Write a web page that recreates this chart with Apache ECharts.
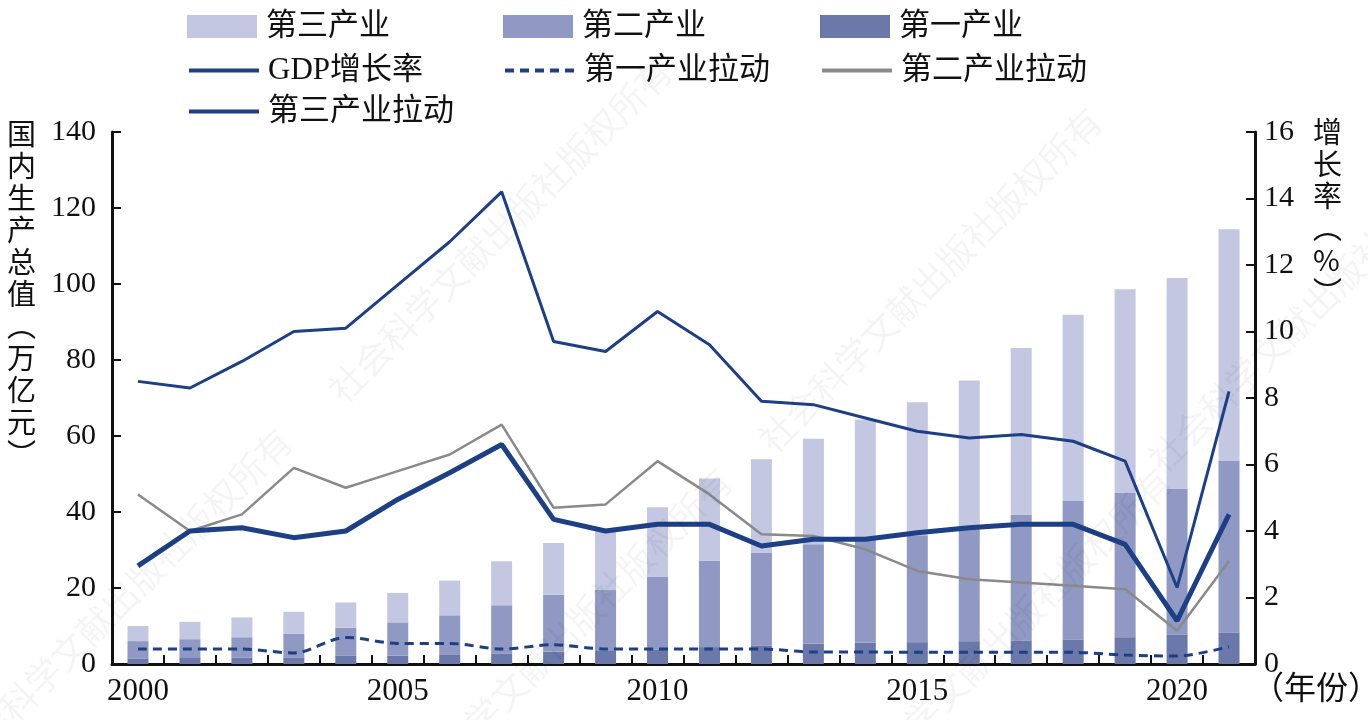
<!DOCTYPE html>
<html>
<head>
<meta charset="utf-8">
<script src="https://cdn.jsdelivr.net/npm/echarts@6/dist/echarts.min.js"></script>
<style>
  html, body { margin: 0; padding: 0; background: #fff; }
  #chart { width: 1368px; height: 720px; }
</style>
</head>
<body>
<div id="chart"></div>
<script>
// 年份
const years = ["2000", "2001", "2002", "2003", "2004", "2005", "2006", "2007", "2008", "2009", "2010",
  "2011", "2012", "2013", "2014", "2015", "2016", "2017", "2018", "2019", "2020", "2021"];

// 三次产业增加值（万亿元）
const primary = [1.47, 1.58, 1.65, 1.74, 2.14, 2.20, 2.38, 2.79, 3.27, 3.42, 3.84,
  4.45, 4.91, 5.30, 5.56, 5.75, 6.01, 6.21, 6.47, 7.05, 7.78, 8.31];
const secondary = [4.56, 4.95, 5.39, 6.24, 7.39, 8.76, 10.44, 12.68, 14.97, 16.05, 19.16,
  22.71, 24.46, 26.20, 27.74, 28.13, 29.54, 33.16, 36.45, 38.06, 38.41, 45.09];
const tertiary = [3.97, 4.57, 5.20, 5.77, 6.66, 7.74, 9.12, 11.54, 13.62, 15.48, 18.26,
  21.65, 24.49, 27.77, 31.03, 34.99, 39.08, 43.80, 48.96, 53.54, 55.40, 61.00];

// 增长率与拉动（%）
const gdpGrowth = [8.5, 8.3, 9.1, 10.0, 10.1, 11.4, 12.7, 14.2, 9.7, 9.4, 10.6,
  9.6, 7.9, 7.8, 7.4, 7.0, 6.8, 6.9, 6.7, 6.1, 2.3, 8.2];
const pull1 = [0.45, 0.45, 0.45, 0.33, 0.8, 0.62, 0.62, 0.45, 0.58, 0.45, 0.45,
  0.45, 0.45, 0.36, 0.36, 0.35, 0.35, 0.35, 0.35, 0.27, 0.24, 0.52];
const pull2 = [5.1, 4.0, 4.5, 5.9, 5.3, 5.8, 6.3, 7.2, 4.7, 4.8, 6.1,
  5.1, 3.9, 3.85, 3.45, 2.8, 2.55, 2.45, 2.35, 2.25, 1.0, 3.1];
const pull3 = [2.95, 4.0, 4.1, 3.8, 4.0, 4.95, 5.75, 6.6, 4.35, 4.0, 4.2,
  4.2, 3.55, 3.75, 3.75, 3.95, 4.1, 4.2, 4.2, 3.6, 1.3, 4.5];

const C_T3 = "#c3c7e1";
const C_T2 = "#8f99c3";
const C_T1 = "#6b79aa";
const C_BLUE = "#1d3f86";
const C_GREY = "#8a8a8a";
const FONT = "'Liberation Serif', 'Noto Sans CJK SC', serif";

function legendItem(name, left, top, isBar) {
  const lg = {
    data: [name],
    left: left,
    top: top,
    itemWidth: 70,
    itemHeight: isBar ? 23 : 14,
    selectedMode: false,
    textStyle: { fontSize: 31, color: "#111", fontFamily: FONT, padding: [0, 0, 0, 4] }
  };
  if (isBar) {
    lg.icon = "rect";
  } else {
    lg.itemStyle = { opacity: 0 };
    lg.lineStyle = { width: 4 };
  }
  return lg;
}

function watermark(x, y) {
  return {
    type: "text",
    x: x,
    y: y,
    rotation: Math.PI / 4,
    silent: true,
    z: 100,
    style: {
      text: "社会科学文献出版社版权所有",
      fontSize: 36,
      fontFamily: "'Noto Sans CJK SC'",
      fill: "rgba(0,0,0,0.045)",
      align: "center",
      verticalAlign: "middle"
    }
  };
}

const option = {
  animation: false,
  backgroundColor: "#fff",
  legend: [
    legendItem("第三产业", 182, 6, true),
    legendItem("第二产业", 498, 6, true),
    legendItem("第一产业", 815, 6, true),
    legendItem("GDP增长率", 182, 50, false),
    legendItem("第一产业拉动", 498, 50, false),
    legendItem("第二产业拉动", 815, 50, false),
    legendItem("第三产业拉动", 182, 91, false)
  ],
  grid: { left: 112, right: 113, top: 132, bottom: 56 },
  xAxis: {
    type: "category",
    data: years,
    boundaryGap: true,
    axisLine: { lineStyle: { color: "#111", width: 3 } },
    axisTick: { show: true, inside: true, length: 9, interval: 0, lineStyle: { color: "#111", width: 2 } },
    axisLabel: { interval: 4, fontSize: 31, color: "#111", fontFamily: FONT, margin: 12 }
  },
  yAxis: [
    {
      type: "value",
      min: 0,
      max: 140,
      interval: 20,
      position: "left",
      splitLine: { show: false },
      axisLine: { show: true, lineStyle: { color: "#111", width: 3 } },
      axisTick: { show: true, inside: true, length: 9, lineStyle: { color: "#111", width: 2 } },
      axisLabel: { fontSize: 30, color: "#111", fontFamily: FONT, margin: 16 }
    },
    {
      type: "value",
      min: 0,
      max: 16,
      interval: 2,
      position: "right",
      splitLine: { show: false },
      axisLine: { show: true, lineStyle: { color: "#111", width: 3 } },
      axisTick: { show: true, inside: true, length: 9, lineStyle: { color: "#111", width: 2 } },
      axisLabel: { fontSize: 30, color: "#111", fontFamily: FONT, margin: 9 }
    }
  ],
  graphic: [
    {
      type: "text",
      left: 7,
      top: 118,
      style: {
        text: "国\n内\n生\n产\n总\n值\n︵\n万\n亿\n元\n︶",
        fontSize: 29,
        lineHeight: 32,
        fill: "#111",
        fontFamily: "'Noto Sans CJK SC'"
      }
    },
    {
      type: "text",
      left: 1313,
      top: 116,
      style: {
        text: "增\n长\n率\n︵\n%\n︶",
        fontSize: 29,
        lineHeight: 32,
        fill: "#111",
        align: "center",
        fontFamily: "'Noto Sans CJK SC'"
      }
    },
    {
      type: "text",
      left: 1252,
      top: 671,
      style: { text: "（年份）", fontSize: 32, fill: "#111", fontFamily: "'Noto Sans CJK SC'" }
    },
    watermark(120, 600),
    watermark(500, 230),
    watermark(560, 640),
    watermark(930, 280),
    watermark(1000, 640),
    watermark(1320, 300)
  ],
  series: [
    { name: "第一产业", type: "bar", stack: "gdp", data: primary, barWidth: 21, itemStyle: { color: C_T1 } },
    { name: "第二产业", type: "bar", stack: "gdp", data: secondary, barWidth: 21, itemStyle: { color: C_T2 } },
    { name: "第三产业", type: "bar", stack: "gdp", data: tertiary, barWidth: 21, itemStyle: { color: C_T3 } },
    {
      name: "GDP增长率", type: "line", yAxisIndex: 1, data: gdpGrowth, symbol: "none",
      lineStyle: { color: C_BLUE, width: 3 }, itemStyle: { color: C_BLUE }
    },
    {
      name: "第一产业拉动", type: "line", yAxisIndex: 1, data: pull1, symbol: "none", smooth: 0.3,
      lineStyle: { color: C_BLUE, width: 3, type: [9, 6] }, itemStyle: { color: C_BLUE }
    },
    {
      name: "第二产业拉动", type: "line", yAxisIndex: 1, data: pull2, symbol: "none",
      lineStyle: { color: C_GREY, width: 2.5 }, itemStyle: { color: C_GREY }
    },
    {
      name: "第三产业拉动", type: "line", yAxisIndex: 1, data: pull3, symbol: "none",
      lineStyle: { color: C_BLUE, width: 5 }, itemStyle: { color: C_BLUE }
    }
  ]
};

const chart = echarts.init(document.getElementById("chart"));
chart.setOption(option);
</script>
</body>
</html>
